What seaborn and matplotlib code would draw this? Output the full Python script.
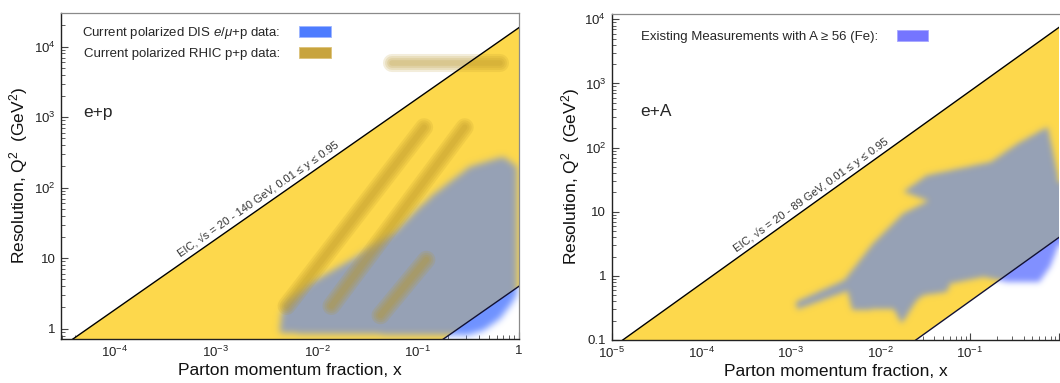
import numpy as np
import pandas as pd
import matplotlib
matplotlib.use("Agg")
import matplotlib.pyplot as plt
import seaborn as sns
from matplotlib.path import Path
from matplotlib.colors import LinearSegmentedColormap, to_rgb
from matplotlib.patches import Patch
from matplotlib.ticker import LogLocator, FuncFormatter, NullFormatter

# EIC kinematic reach: Q2 = x * y * s
ep_sqrt_s = [20, 140]
ea_sqrt_s = [20, 89]
y_range = [0.01, 0.95]

# current polarized DIS e/mu+p data (outline of covered region)
ep_dis_x = [4.3e-3, 4.4e-3, 4.9e-3, 8.5e-3, 0.0247, 0.0615, 0.132, 0.327, 0.70, 0.95,
            0.95, 0.85, 0.65, 0.45, 0.30]
ep_dis_q2 = [0.86, 1.5, 2.3, 4.4, 10.5, 25, 74, 199, 275, 199,
             3.0, 2.3, 1.4, 0.95, 0.80]

# current polarized RHIC p+p data bands (start / end of each band)
rhic_x_lo = [5.0e-3, 0.0139, 0.0425, 0.055]
rhic_x_hi = [0.115, 0.29, 0.121, 0.65]
rhic_q2_lo = [2.1, 2.1, 1.55, 5800]
rhic_q2_hi = [720, 720, 9.5, 5800]

# existing measurements with A >= 56 (Fe), outline of covered region
ea_x = [1.13e-3, 3.97e-3, 8.3e-3, 0.0181, 0.0347, 0.0181, 0.0332, 0.173, 0.345, 0.75,
        0.98, 1.07, 0.80, 0.60, 0.27, 0.145, 0.061, 0.056, 0.0305, 0.0257, 0.0174,
        0.014, 4.9e-3, 4.3e-3, 1.18e-3]
ea_q2 = [0.39, 0.86, 3.2, 9.4, 14.8, 20.4, 37, 60, 116, 211,
         35, 4.05, 1.4, 0.8, 0.8, 0.96, 0.76, 0.56, 0.5, 0.42, 0.18,
         0.31, 0.29, 0.58, 0.30]

yellow = "#FDD84C"
grey = "#96A1B5"
olive = "#B8962A"

sns.set_theme(style="white")
plt.rcParams["font.family"] = ["Liberation Sans", "DejaVu Sans"]
plt.rcParams["mathtext.fontset"] = "custom"
plt.rcParams["mathtext.rm"] = "Liberation Sans"
plt.rcParams["mathtext.it"] = "Liberation Sans:italic"


def alpha_cmap(color):
    r, g, b = to_rgb(color)
    return LinearSegmentedColormap.from_list("a", [(r, g, b, 0), (r, g, b, 1)])


def smooth(m, sigma):
    k = np.arange(-3 * int(sigma) - 1, 3 * int(sigma) + 2)
    k = np.exp(-0.5 * (k / sigma) ** 2)
    k /= k.sum()
    p = len(k) // 2
    m = np.pad(m, p, mode="edge")
    m = np.apply_along_axis(lambda r: np.convolve(r, k, mode="same"), 1, m)
    m = np.apply_along_axis(lambda c: np.convolve(c, k, mode="same"), 0, m)
    return m[p:-p, p:-p]


def soft_region(ax, xs, qs, s_lo, s_hi, blue, sigma=3.0):
    (x0, x1), (y0, y1) = ax.get_xlim(), ax.get_ylim()
    bb = ax.get_window_extent()
    nx, ny = int(bb.width), int(bb.height)
    lx = np.linspace(np.log10(x0), np.log10(x1), nx + 1)
    ly = np.linspace(np.log10(y0), np.log10(y1), ny + 1)
    LX, LY = np.meshgrid(0.5 * (lx[1:] + lx[:-1]), 0.5 * (ly[1:] + ly[:-1]))
    path = Path(np.column_stack([np.log10(xs), np.log10(qs)]))
    m = path.contains_points(np.column_stack([LX.ravel(), LY.ravel()]))
    m = smooth(m.reshape(LX.shape).astype(float), sigma)
    lower = np.log10(y_range[0] * s_lo ** 2) + LX
    upper = np.log10(y_range[1] * s_hi ** 2) + LX
    inside = (LY >= lower) & (LY <= upper)
    below = LY < lower
    X, Y = 10 ** lx, 10 ** ly
    ax.pcolormesh(X, Y, m * inside, cmap=alpha_cmap(grey), vmin=0, vmax=1, zorder=2)
    ax.pcolormesh(X, Y, m * below, cmap=alpha_cmap(blue), vmin=0, vmax=1.15, zorder=2)


def make_fmt_x(show_one):
    def fmt(v, pos):
        if np.isclose(v, 1):
            return "1" if show_one else ""
        return r"$10^{%d}$" % round(np.log10(v))
    return fmt


def fmt_y(v, pos):
    if np.isclose(v, 0.1):
        return "0.1"
    if np.isclose(v, 1):
        return "1"
    if np.isclose(v, 10):
        return "10"
    return r"$10^{%d}$" % round(np.log10(v))


def setup_axes(ax, xlim, ylim, show_one=True):
    ax.set_xscale("log")
    ax.set_yscale("log")
    ax.set_xlim(xlim)
    ax.set_ylim(ylim)
    ax.xaxis.set_major_locator(LogLocator(base=10, numticks=20))
    ax.yaxis.set_major_locator(LogLocator(base=10, numticks=20))
    ax.xaxis.set_minor_locator(LogLocator(base=10, subs=np.arange(2, 10), numticks=20))
    ax.yaxis.set_minor_locator(LogLocator(base=10, subs=np.arange(2, 10), numticks=20))
    ax.xaxis.set_major_formatter(FuncFormatter(make_fmt_x(show_one)))
    ax.yaxis.set_major_formatter(FuncFormatter(fmt_y))
    ax.xaxis.set_minor_formatter(NullFormatter())
    ax.yaxis.set_minor_formatter(NullFormatter())
    ax.tick_params(which="both", direction="in", top=False, right=False,
                   bottom=True, left=True, colors="#444444", labelcolor="#222222")
    ax.tick_params(which="major", length=5, width=0.8, labelsize=9.5)
    ax.tick_params(axis="x", which="major", pad=4.5)
    ax.tick_params(axis="y", which="major", pad=4)
    ax.tick_params(which="minor", length=2.8, width=0.6)
    for side in ["top", "right"]:
        ax.spines[side].set_color("#8a8a8a")
        ax.spines[side].set_linewidth(0.9)
    for side in ["left", "bottom"]:
        ax.spines[side].set_color("#222222")
        ax.spines[side].set_linewidth(1.0)
    ax.set_xlabel("Parton momentum fraction, x", fontsize=12.5, color="#111111")
    ax.set_ylabel(r"Resolution, Q$^2$  (GeV$^2$)", fontsize=12.5, color="#111111")
    ax.xaxis.set_label_coords(0.5, -0.075)


def draw_reach(ax, sqrt_s, x_label_start, label):
    xs = np.logspace(-7, 1, 50)
    df = pd.DataFrame({"x": xs,
                       "upper": y_range[1] * sqrt_s[1] ** 2 * xs,
                       "lower": y_range[0] * sqrt_s[0] ** 2 * xs})
    ax.fill_between(df["x"], df["lower"], df["upper"], color=yellow, lw=0, zorder=1)
    sns.lineplot(data=df, x="x", y="upper", color="black", lw=1.0, ax=ax, zorder=5)
    sns.lineplot(data=df, x="x", y="lower", color="#111133", lw=1.0, ax=ax, zorder=5)
    c = y_range[1] * sqrt_s[1] ** 2
    p1 = ax.transData.transform((x_label_start, c * x_label_start))
    p2 = ax.transData.transform((x_label_start * 10, c * x_label_start * 10))
    ang = np.degrees(np.arctan2(p2[1] - p1[1], p2[0] - p1[0]))
    d = 2.0
    ax.annotate(label, (x_label_start, c * x_label_start),
                xytext=(-d * np.sin(np.radians(ang)), d * np.cos(np.radians(ang))),
                textcoords="offset points", rotation=ang, rotation_mode="anchor",
                ha="left", va="bottom", fontsize=8, color="#333333", zorder=6)


fig = plt.figure(figsize=(10.6, 3.83), dpi=100)
ax1 = fig.add_axes([61 / 1060, 44 / 383, 458 / 1060, 326 / 383])
ax2 = fig.add_axes([611.7 / 1060, 43 / 383, 447.5 / 1060, 326 / 383])

# ---- e+p ----
setup_axes(ax1, (2.92e-5, 1.0), (0.714, 3.0e4))
ax1.yaxis.set_label_coords(-0.068, 0.5)
draw_reach(ax1, ep_sqrt_s, 4.8e-4, "EIC, \u221as = 20 - 140 GeV, 0.01 \u2264 y \u2264 0.95")
soft_region(ax1, ep_dis_x, ep_dis_q2, ep_sqrt_s[0], ep_sqrt_s[1], "#5A82FF", sigma=3.5)
for xa, xb, qa, qb in zip(rhic_x_lo, rhic_x_hi, rhic_q2_lo, rhic_q2_hi):
    for lw in [13, 10, 7, 4]:
        ax1.plot([xa, xb], [qa, qb], color=olive, lw=lw, alpha=0.17,
                 solid_capstyle="round", zorder=3)
ax1.text(0.048, 0.696, "e+p", transform=ax1.transAxes, fontsize=12.5, va="center")
h1 = [Patch(facecolor="#4D7CFF", edgecolor="#9DB5FF", lw=0.6),
      Patch(facecolor="#C8A43E", edgecolor="#DCC27A", lw=0.6)]
ax1.legend(h1, [r"Current polarized DIS $e/\mu$+p data:", "Current polarized RHIC p+p data:"],
           loc="upper left", bbox_to_anchor=(0.046, 0.962), frameon=False, markerfirst=False,
           handlelength=2.4, handleheight=0.9, handletextpad=1.4, labelspacing=0.45,
           fontsize=9.5, borderaxespad=0, borderpad=0)

# ---- e+A ----
setup_axes(ax2, (1e-5, 1.0), (0.1, 1.21e4), show_one=False)
ax2.yaxis.set_label_coords(-0.066, 0.5)
ax2.spines["right"].set_visible(False)
draw_reach(ax2, ea_sqrt_s, 2.68e-4, "EIC, \u221as = 20 - 89 GeV, 0.01 \u2264 y \u2264 0.95")
soft_region(ax2, ea_x, ea_q2, ea_sqrt_s[0], ea_sqrt_s[1], "#6E80FF", sigma=3.0)
ax2.text(0.064, 0.70, "e+A", transform=ax2.transAxes, fontsize=12.5, va="center")
h2 = [Patch(facecolor="#7575FF", edgecolor="#A8A8FF", lw=0.6)]
ax2.legend(h2, ["Existing Measurements with A \u2265 56 (Fe):"],
           loc="upper left", bbox_to_anchor=(0.066, 0.951), frameon=False, markerfirst=False,
           handlelength=2.4, handleheight=0.9, handletextpad=1.4,
           fontsize=9.5, borderaxespad=0, borderpad=0)

fig.savefig("out.png", dpi=100, facecolor="white")
